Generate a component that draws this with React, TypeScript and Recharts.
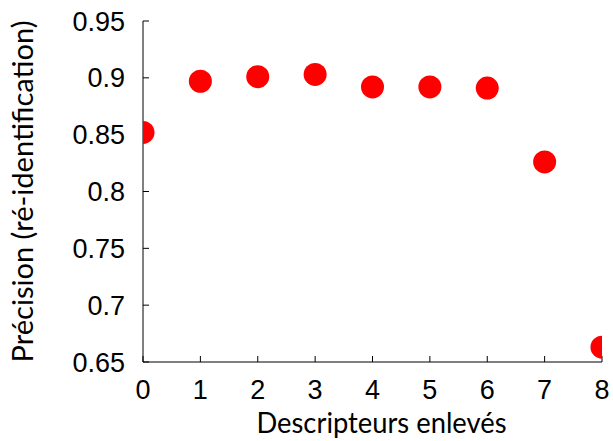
import React from 'react';
import { ScatterChart, Scatter, XAxis, YAxis } from 'recharts';

const descriptorsRemoved = [0, 1, 2, 3, 4, 5, 6, 7, 8];
const precision = [0.852, 0.897, 0.901, 0.903, 0.892, 0.892, 0.891, 0.826, 0.663];
const xTicks = [0, 1, 2, 3, 4, 5, 6, 7, 8];
const yTicks = [0.65, 0.7, 0.75, 0.8, 0.85, 0.9, 0.95];
const xTitle = 'Descripteurs enlevés';
const yTitle = 'Précision (ré-identification)';

const data = descriptorsRemoved.map((x, i) => ({ x, y: precision[i] }));

const tickFont = { fontFamily: 'Liberation Sans, Arial, sans-serif', fontSize: 27, fill: '#000' };
const titleFont = 'Lato, sans-serif';

const XTitle = (props: any) => {
  const vb = props.viewBox || {};
  const cx = vb.x + vb.width / 2 + 9;
  const y = vb.y + 71;
  return (
    <text x={cx} y={y} textAnchor="middle" fontFamily={titleFont} fontSize={28} fill="#000"
      textLength={250} lengthAdjust="spacingAndGlyphs">
      {xTitle}
    </text>
  );
};

const YTitle = (props: any) => {
  const vb = props.viewBox || {};
  const x = 33;
  const cy = vb.y + vb.height / 2;
  return (
    <text x={x} y={cy} transform={`rotate(-90, ${x}, ${cy})`} textAnchor="middle" fontFamily={titleFont}
      fontSize={28} fill="#000" textLength={342} lengthAdjust="spacingAndGlyphs">
      {yTitle}
    </text>
  );
};

const Dot = (props: any) => <circle cx={props.cx} cy={props.cy} r={11.5} fill="#ff0000" />;

export default function App() {
  return (
    <div style={{ position: 'absolute', left: 0, top: 0, width: 613, height: 441, background: '#fff' }}>
      <ScatterChart width={613} height={441} margin={{ top: 21, right: 11, bottom: 0, left: 0 }}>
        <XAxis xAxisId="b" dataKey="x" type="number" domain={[0, 8]} ticks={xTicks} orientation="bottom"
          height={79} tickSize={-6} tickMargin={24} tick={tickFont} interval={0}
          axisLine={{ stroke: '#000' }} tickLine={{ stroke: '#000' }} allowDataOverflow
          label={<XTitle />} />
        <XAxis xAxisId="t" dataKey="x" type="number" domain={[0, 8]} ticks={xTicks} orientation="top"
          height={0} tickSize={-6} tickFormatter={() => ''} interval={0}
          axisLine={{ stroke: '#444' }} tickLine={{ stroke: '#444' }} allowDataOverflow />
        <YAxis yAxisId="l" dataKey="y" type="number" domain={[0.65, 0.95]} ticks={yTicks} orientation="left"
          width={143} tickSize={-6} tickMargin={24} tick={tickFont} interval={0}
          tickFormatter={(v: number) => String(v)}
          axisLine={{ stroke: '#000' }} tickLine={{ stroke: '#000' }} allowDataOverflow
          label={<YTitle />} />
        <YAxis yAxisId="r" dataKey="y" type="number" domain={[0.65, 0.95]} ticks={yTicks} orientation="right"
          width={0} tickSize={-6} tickFormatter={() => ''} interval={0}
          axisLine={{ stroke: '#444' }} tickLine={{ stroke: '#444' }} allowDataOverflow />
        <Scatter data={data} xAxisId="b" yAxisId="l" shape={<Dot />} isAnimationActive={false} />
      </ScatterChart>
    </div>
  );
}
